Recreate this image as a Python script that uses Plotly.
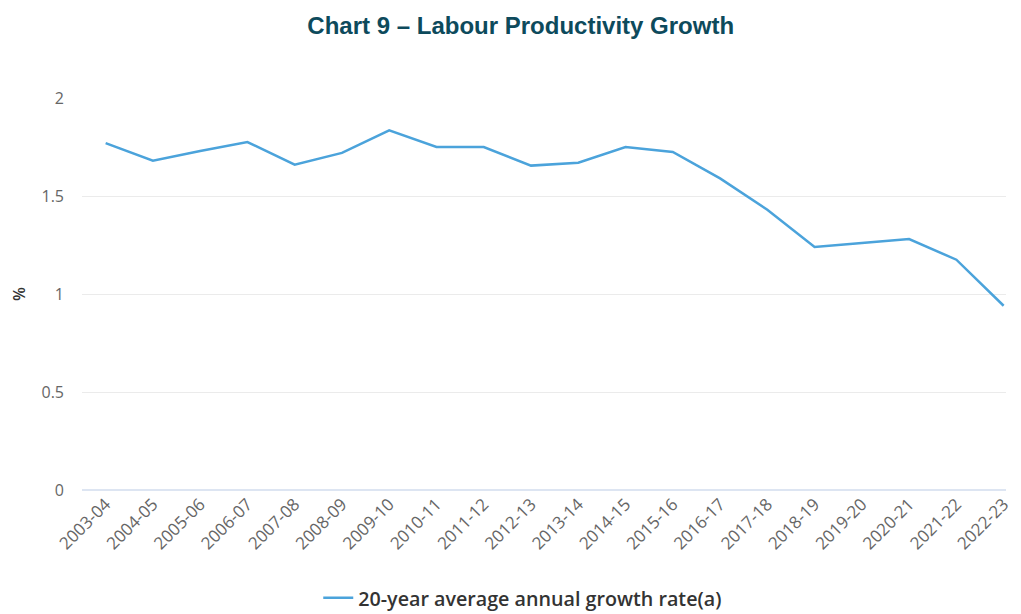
import plotly.graph_objects as go

# Financial years and 20-year average annual labour productivity growth (%)
years = [
    "2003-04", "2004-05", "2005-06", "2006-07", "2007-08", "2008-09", "2009-10",
    "2010-11", "2011-12", "2012-13", "2013-14", "2014-15", "2015-16", "2016-17",
    "2017-18", "2018-19", "2019-20", "2020-21", "2021-22", "2022-23",
]
growth_rate = [
    1.77, 1.68, 1.73, 1.775, 1.66, 1.72, 1.835,
    1.75, 1.75, 1.655, 1.67, 1.75, 1.725, 1.59,
    1.43, 1.24, 1.26, 1.28, 1.175, 0.94,
]
y_ticks = [0, 0.5, 1, 1.5, 2]
y_tick_labels = ["0", "0.5", "1", "1.5", "2"]

fig = go.Figure()
fig.add_trace(go.Scatter(
    x=years,
    y=growth_rate,
    mode="lines",
    name="20-year average annual growth rate(a)",
    line=dict(color="#4ba3db", width=2.5),
))

fig.update_layout(
    width=1021,
    height=614,
    paper_bgcolor="white",
    plot_bgcolor="white",
    margin=dict(l=82, r=8, t=98, b=124),
    title=dict(
        text="<b>Chart 9 – Labour Productivity Growth</b>",
        x=0.51, xanchor="center",
        y=0.958, yanchor="middle",
        font=dict(family="Liberation Sans, Arial", size=24, color="#0d4a5c"),
    ),
    showlegend=True,
    legend=dict(
        orientation="h",
        xref="container", yref="container",
        x=0.512, xanchor="center",
        y=0.026, yanchor="middle",
        font=dict(family="Open Sans", size=19.7, color="#333333", weight=600),
        itemwidth=30,
    ),
    xaxis=dict(
        type="category",
        range=[-0.5, 19.05],
        showgrid=False,
        showline=False,
        zeroline=False,
        tickangle=-45,
        ticks="",
        tickfont=dict(family="Open Sans", size=17, color="#666666"),
    ),
    yaxis=dict(
        range=[0, 2],
        tickvals=y_ticks,
        ticktext=y_tick_labels,
        showgrid=True,
        gridcolor="#ebebeb",
        gridwidth=1,
        zeroline=True,
        zerolinecolor="#dde5f2",
        zerolinewidth=2,
        showline=False,
        ticks="",
        ticklabelstandoff=17,
        tickfont=dict(family="Open Sans", size=16, color="#666666"),
        title=dict(
            text="%",
            standoff=11,
            font=dict(family="Open Sans", size=16, color="#333333", weight=600),
        ),
    ),
)

fig.write_html("out.html")
